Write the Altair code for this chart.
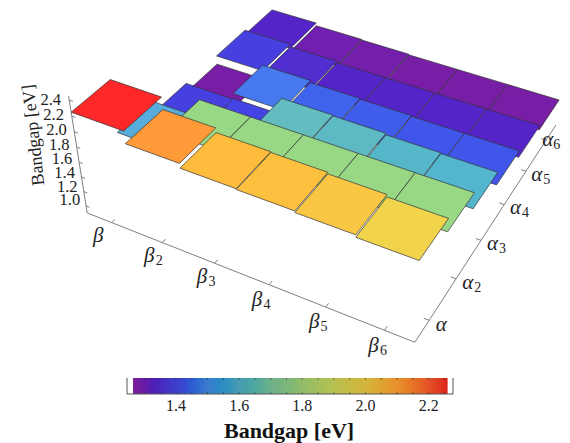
import numpy as np
import altair as alt

W, H = 554, 435
OFF = 8
FONT = "Liberation Serif"

# bandgap of each plate, rows alpha..alpha6, columns beta..beta6
alpha_1 = [2.25, 2.09, 2.03, 2.02, 2.00, 1.97]
alpha_2 = [1.55, 1.80, 1.80, 1.80, 1.80, 1.80]
alpha_3 = [1.39, 1.40, 1.63, 1.62, 1.60, 1.59]
alpha_4 = [1.27, 1.47, 1.44, 1.43, 1.42, 1.42]
alpha_5 = [1.39, 1.35, 1.33, 1.33, 1.33, 1.33]
alpha_6 = [1.33, 1.29, 1.28, 1.27, 1.27, 1.27]
rows = [alpha_1, alpha_2, alpha_3, alpha_4, alpha_5, alpha_6]

z_ticks = [1.0, 1.2, 1.4, 1.6, 1.8, 2.0, 2.2, 2.4]
bar_ticks = [1.4, 1.6, 1.8, 2.0, 2.2]
subs = ["", "2", "3", "4", "5", "6"]

plate_stops = [1.25, 1.33, 1.40, 1.47, 1.55, 1.63, 1.80, 1.97, 2.03, 2.09, 2.25]
plate_cols = ["#7E209C", "#5524C8", "#4444E4", "#4678EE", "#58ACDC", "#62BCC0",
              "#98D884", "#F2D34C", "#FFBB3C", "#FF9A38", "#FF2828"]
bar_stops = [1.265, 1.33, 1.42, 1.5, 1.6, 1.7, 1.8, 1.9, 2.0, 2.1, 2.2, 2.26]
bar_cols = ["#7A1F9A", "#4C20B8", "#3A48D0", "#3E7CCC", "#4C9CB0", "#70B088",
            "#92BC68", "#B8C050", "#D4B43C", "#E8902E", "#E45028", "#DC1E1E"]

# camera calibration: (beta, alpha, z) seen at (sx, sy)
ZB = 0.9
calib = [
    (0, 0, ZB, 87, 213), (6, 0, ZB, 415, 342), (6, 6, ZB, 556, 125),
    (0, 0, 2.25, 72, 113), (6, 0, 1.97, 419, 261), (6, 6, 1.27, 559, 100),
    (0, 6, 1.33, 272, 10), (0, 0, 2.45, 68, 95),
]
A, b = [], []
for u, v, z, sx, sy in calib:
    A.append([u, v, z, 1, 0, 0, 0, 0, -sx*u, -sx*v, -sx*z]); b.append(sx)
    A.append([0, 0, 0, 0, u, v, z, 1, -sy*u, -sy*v, -sy*z]); b.append(sy)
P = np.linalg.lstsq(np.array(A, float), np.array(b, float), rcond=None)[0]

def proj(u, v, z):
    d = P[8]*u + P[9]*v + P[10]*z + 1
    return [float((P[0]*u + P[1]*v + P[2]*z + P[3])/d - OFF),
            float((P[4]*u + P[5]*v + P[6]*z + P[7])/d - OFF)]

def feature(coords, kind="Polygon", **props):
    g = {"type": kind, "coordinates": [coords] if kind == "Polygon" else coords}
    return {"type": "Feature", "geometry": g, "properties": props}

# painter's order: far rows first
plates = []
for j in range(5, -1, -1):
    for i in range(6):
        z = rows[j][i]
        c = [proj(i, j, z), proj(i+1, j, z), proj(i+1, j+1, z), proj(i, j+1, z), proj(i, j, z)]
        plates.append(feature(c, z=z))

lines = [
    feature([proj(0, 0, ZB), proj(6, 0, ZB)], "LineString"),
    feature([proj(6, 0, ZB), proj(6, 6, ZB)], "LineString"),
    feature([proj(0, 0, ZB), proj(0, 0, 2.45)], "LineString"),
]
for k in range(6):
    lines.append(feature([proj(k+.5, 0, ZB), proj(k+.5, 0.09, ZB)], "LineString"))
    lines.append(feature([proj(6, k+.5, ZB), proj(5.91, k+.5, ZB)], "LineString"))
for z in z_ticks:
    lines.append(feature([proj(0, 0, z), proj(0.07, 0, z)], "LineString"))

texts_main, texts_sub = [], []
for k in range(6):
    x, y = proj(k+.5, -0.36, ZB)
    texts_main.append({"lon": x, "lat": y, "t": "β"})
    if subs[k]:
        texts_sub.append({"lon": x+10, "lat": y+5, "t": subs[k]})
    # the last label is pulled in so that it stays inside the page
    x, y = proj(6.2 if k < 5 else 6.03, k+.5, ZB)
    texts_main.append({"lon": x, "lat": y, "t": "α"})
    if subs[k]:
        texts_sub.append({"lon": x+(10 if k < 5 else 9), "lat": y+5, "t": subs[k]})
ztexts = []
for z in z_ticks:
    x, y = proj(-0.1, 0, z)
    ztexts.append({"lon": x-1-(z-1)*1.4, "lat": y+1+(z-1)*4.3, "t": f"{z:.1f}"})

def geo(values):
    return alt.Data(values=values, format=alt.DataFormat(type="json"))

plate_layer = alt.Chart(geo(plates)).mark_geoshape(stroke="#333333", strokeWidth=0.7).encode(
    color=alt.Color("properties.z:Q", legend=None,
                    scale=alt.Scale(domain=plate_stops, range=plate_cols))
).project(type="identity", scale=1, translate=[0, 0])
line_layer = alt.Chart(geo(lines)).mark_geoshape(filled=False, stroke="#808080", strokeWidth=1).project(
    type="identity", scale=1, translate=[0, 0])

def txt(values, size, **kw):
    return alt.Chart(alt.Data(values=values)).mark_text(font=FONT, fontSize=size, color="#222222", **kw).encode(
        longitude="lon:Q", latitude="lat:Q", text="t:N"
    ).project(type="identity", scale=1, translate=[0, 0])

main_t = txt(texts_main, 21, fontStyle="italic")
sub_t = txt(texts_sub, 14)
z_t = txt(ztexts, 16.5, align="right", baseline="alphabetic")
ztitle = txt([{"lon": 34-OFF, "lat": 135-OFF, "t": "Bandgap [eV]"}], 18, angle=264)

# colour bar
bar_dom = [1.245, 2.277]
bar_rng = [127-OFF, 453-OFF]
xs = alt.X("v:Q", scale=alt.Scale(domain=bar_dom, range=bar_rng), axis=None)
edges = np.arange(1.264, 2.256, 0.004)
cells = [{"v": float(e), "v2": float(e+0.008), "c": float(e)} for e in edges]
bar = alt.Chart(alt.Data(values=cells)).mark_rect().encode(
    x=xs, x2="v2:Q", y=alt.value(378-OFF), y2=alt.value(394-OFF),
    color=alt.Color("c:Q", legend=None, scale=alt.Scale(domain=bar_stops, range=bar_cols)),
)
frame_vals = [{"v": v} for v in bar_dom]
frame_s = alt.Chart(alt.Data(values=frame_vals)).mark_rule(color="#555555", strokeWidth=1).encode(
    x=xs, y=alt.value(378-OFF), y2=alt.value(394-OFF))
frame_b = alt.Chart(alt.Data(values=[{"v": bar_dom[0], "v2": bar_dom[1]}])).mark_rule(color="#555555", strokeWidth=1).encode(
    x=xs, x2="v2:Q", y=alt.value(394-OFF))
minor = [{"v": float(v)} for v in np.arange(1.30, 2.26, 0.05)]
tick_top = alt.Chart(alt.Data(values=minor)).mark_rule(color="#222222", strokeWidth=0.7).encode(
    x=xs, y=alt.value(378-OFF), y2=alt.value(379.5-OFF))
tick_bot = alt.Chart(alt.Data(values=minor)).mark_rule(color="#222222", strokeWidth=0.7).encode(
    x=xs, y=alt.value(392.5-OFF), y2=alt.value(394-OFF))
bar_labels = alt.Chart(alt.Data(values=[{"v": v, "t": f"{v:.1f}"} for v in bar_ticks])).mark_text(
    font=FONT, fontSize=16, color="#222222", baseline="middle").encode(
    x=xs, y=alt.value(406-OFF), text="t:N")
bar_title = alt.Chart(alt.Data(values=[{"v": 1.758, "t": "Bandgap [eV]"}])).mark_text(
    font=FONT, fontSize=22, fontWeight="bold", color="#111111", baseline="middle").encode(
    x=xs, y=alt.value(431-OFF), text="t:N")

chart = alt.layer(
    line_layer, plate_layer, main_t, sub_t, z_t, ztitle,
    bar, frame_s, frame_b, tick_top, tick_bot, bar_labels, bar_title,
).resolve_scale(color="independent").properties(
    width=W, height=H, padding=0, autosize=alt.AutoSizeParams(type="none"),
    background="white",
).configure_view(stroke=None)

chart.save("out.html", embed_options={"renderer": "svg", "actions": False})
